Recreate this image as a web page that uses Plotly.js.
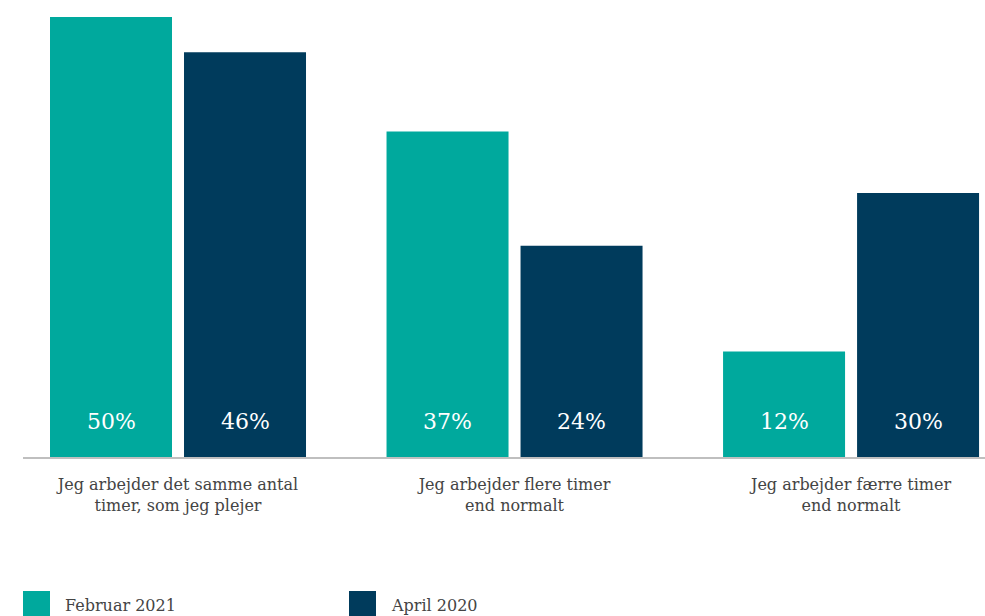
<!DOCTYPE html>
<html>
<head>
<meta charset="utf-8">
<script src="https://cdn.plot.ly/plotly-3.0.1.min.js"></script>
<style>html,body{margin:0;padding:0;background:#fff;}#chart{width:985px;height:616px;}</style>
</head>
<body>
<div id="chart"></div>
<script>
const categories = [
  "Jeg arbejder det samme antal<br>timer, som jeg plejer",
  "Jeg arbejder flere timer<br>end normalt",
  "Jeg arbejder færre timer<br>end normalt"
];
const seriesNames = ["Februar 2021", "April 2020"];
const feb2021 = [50, 37, 12];
const apr2020 = [46, 24, 30];
const seriesColors = ["#00A99D", "#003B5C"];

const W = 985, H = 616;
const M = {l: 23, r: 0, t: 10, b: 159};
const plotW = W - M.l - M.r, plotH = H - M.t - M.b;
const bargap = 0.2036;
const idx = categories.map((c, i) => i);

const values = [feb2021, apr2020];
const traces = values.map((v, s) => ({
  type: 'bar',
  x: idx,
  y: v,
  name: seriesNames[s],
  marker: {color: seriesColors[s]},
  hoverinfo: 'skip'
}));

// value labels inside bars near base
const offset = (1 - bargap) / 4;
const annotations = [];
values.forEach((v, s) => {
  v.forEach((val, i) => {
    annotations.push({
      x: i + (s === 0 ? -offset : offset), y: 0, xref: 'x', yref: 'y',
      text: val + '%', showarrow: false, yanchor: 'middle', yshift: 36,
      font: {family: 'DejaVu Serif', size: 22, color: '#ffffff'}
    });
  });
});

// custom legend
const shapes = [];
const legendX = [23, 349];
seriesNames.forEach((n, s) => {
  const px = legendX[s];
  shapes.push({
    type: 'rect', xref: 'paper', yref: 'paper',
    x0: (px - M.l) / plotW, x1: (px + 27 - M.l) / plotW,
    y0: (M.t + plotH - 622) / plotH, y1: (M.t + plotH - 591) / plotH,
    fillcolor: seriesColors[s], line: {width: 0}
  });
  annotations.push({
    x: (px + 40 - M.l) / plotW, y: (M.t + plotH - 605) / plotH,
    xref: 'paper', yref: 'paper', xanchor: 'left', yanchor: 'middle',
    text: n, showarrow: false,
    font: {family: 'DejaVu Serif', size: 16, color: '#444444'}
  });
});

const layout = {
  width: W, height: H,
  margin: M,
  paper_bgcolor: '#ffffff', plot_bgcolor: '#ffffff',
  showlegend: false,
  barmode: 'group',
  bargap: bargap,
  bargroupgap: 0.0896,
  xaxis: {
    type: 'linear',
    range: [-0.4606, 2.398],
    tickvals: idx, ticktext: categories,
    showgrid: false, zeroline: false,
    showline: true, linecolor: '#bfbfbf', linewidth: 2,
    ticks: '', ticklabelstandoff: 12,
    tickfont: {family: 'DejaVu Serif', size: 16, color: '#444444'}
  },
  yaxis: {
    range: [0, plotH / 8.8],
    visible: false, showgrid: false, zeroline: false
  },
  annotations: annotations,
  shapes: shapes,
  font: {family: 'DejaVu Serif'}
};

Plotly.newPlot('chart', traces, layout, {displayModeBar: false, staticPlot: true});
</script>
</body>
</html>
